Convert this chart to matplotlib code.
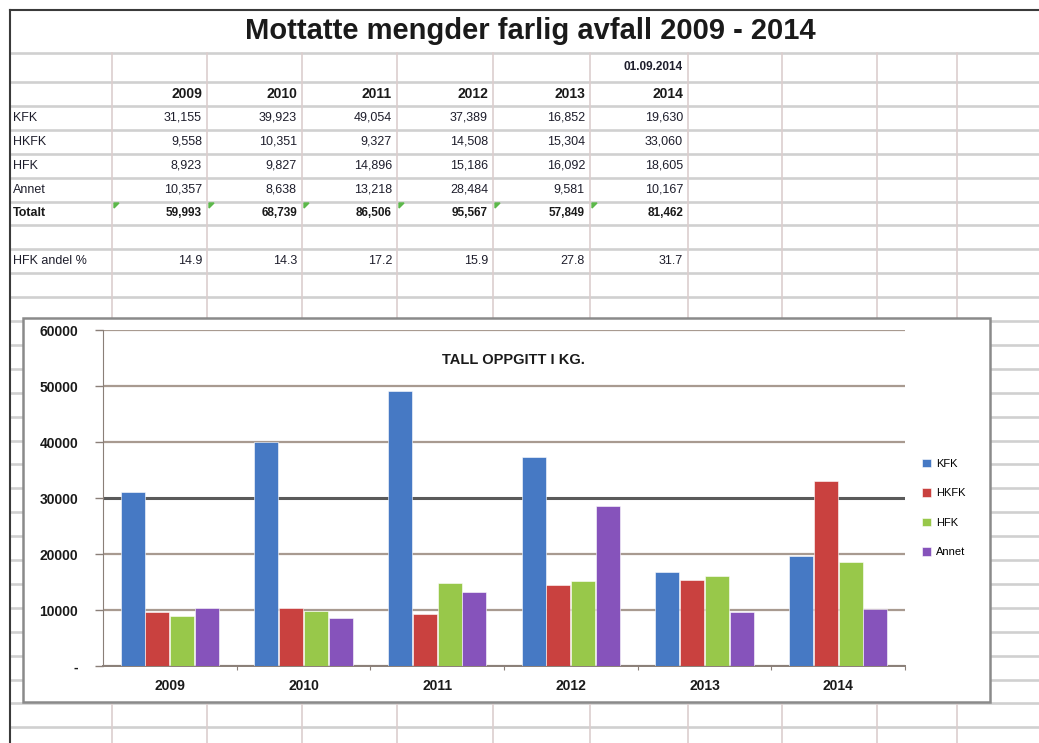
import matplotlib
matplotlib.use('Agg')
import matplotlib.pyplot as plt
import numpy as np
from matplotlib.patches import Rectangle, Polygon
from matplotlib.ticker import FuncFormatter

plt.rcParams['font.family'] = ['Liberation Sans', 'DejaVu Sans']

# ---------------- data ----------------
years = ['2009', '2010', '2011', '2012', '2013', '2014']
series_names = ['KFK', 'HKFK', 'HFK', 'Annet']
kfk = [31155, 39923, 49054, 37389, 16852, 19630]
hkfk = [9558, 10351, 9327, 14508, 15304, 33060]
hfk = [8923, 9827, 14896, 15186, 16092, 18605]
annet = [10357, 8638, 13218, 28484, 9581, 10167]
totalt = [59993, 68739, 86506, 95567, 57849, 81462]
hfk_andel = [14.9, 14.3, 17.2, 15.9, 27.8, 31.7]
date_label = '01.09.2014'
title = 'Mottatte mengder farlig avfall 2009 - 2014'
chart_title = 'TALL OPPGITT I KG.'
y_ticks = [0, 10000, 20000, 30000, 40000, 50000, 60000]
colors = ['#4679c4', '#c9413f', '#98c84a', '#8653bb']

W, H = 1039, 743
fig = plt.figure(figsize=(W / 100, H / 100), dpi=100)
fig.patch.set_facecolor('white')
bg = fig.add_axes([0, 0, 1, 1])
bg.set_xlim(0, W)
bg.set_ylim(H, 0)
bg.axis('off')

# ---------------- spreadsheet grid ----------------
col_x = [112, 207, 302, 397, 493, 590, 688, 782, 877, 957]
row_y = [53] + [82 + 23.9 * k for k in range(28) if 82 + 23.9 * k < H]
for y in row_y:
    bg.plot([10, W], [y, y], color='#d0d0d0', lw=1.9, zorder=1)
for x in col_x:
    bg.plot([x, x], [53, H], color='#dccece', lw=1.2, zorder=1)
bg.plot([10, 10], [10, H], color='#3a3a3a', lw=1.5, zorder=2)
bg.plot([10, W], [10, 10], color='#3a3a3a', lw=1.5, zorder=2)

bg.text(530, 31, title, ha='center', va='center', fontsize=21,
        fontweight='bold', color='#1a1a1a', zorder=3)

# ---------------- table ----------------
col_right = [202, 297, 392, 488, 585, 683]
col_left = [112, 207, 302, 397, 493, 590]
y_date, y_year = 67, 94
y_rows = [118, 142, 166, 190]
y_tot, y_pct = 213, 261
tcol = '#1e1e2c'
bg.text(col_right[-1], y_date, date_label, ha='right', va='center', fontsize=8.5,
        fontweight='bold', color=tcol)
for i, yr in enumerate(years):
    bg.text(col_right[i], y_year, yr, ha='right', va='center', fontsize=10,
            fontweight='bold', color='#1a1a1a')
for name, vals, yy in zip(series_names, [kfk, hkfk, hfk, annet], y_rows):
    bg.text(13, yy, name, ha='left', va='center', fontsize=9, color=tcol)
    for i, v in enumerate(vals):
        bg.text(col_right[i], yy, f'{v:,}', ha='right', va='center', fontsize=9, color=tcol)
bg.text(13, y_tot, 'Totalt', ha='left', va='center', fontsize=9, fontweight='bold', color='#1a1a1a')
for i, v in enumerate(totalt):
    bg.text(col_right[i], y_tot, f'{v:,}', ha='right', va='center', fontsize=8.5,
            fontweight='bold', color='#1a1a1a')
    cl = col_left[i] + 2
    bg.add_patch(Polygon([[cl, y_tot - 10], [cl + 5, y_tot - 10], [cl, y_tot - 5]],
                         closed=True, color='#5cb84a', zorder=3))
bg.text(13, y_pct, 'HFK andel %', ha='left', va='center', fontsize=9, color=tcol)
for i, v in enumerate(hfk_andel):
    bg.text(col_right[i], y_pct, f'{v:.1f}', ha='right', va='center', fontsize=9, color=tcol)

# ---------------- chart box ----------------
bg.add_patch(Rectangle((23, 318), 967, 384, facecolor='white', edgecolor='#8a8a8a',
                       lw=1.8, zorder=5))
bg.text(513, 360, chart_title, ha='center', va='center', fontsize=10.5,
        fontweight='bold', color='#1a1a1a', zorder=6)

px0, px1, py_top, py_bot = 103, 905, 330, 666
ax = fig.add_axes([px0 / W, 1 - py_bot / H, (px1 - px0) / W, (py_bot - py_top) / H])
ax.set_facecolor('none')
x = np.arange(len(years))
bw = 0.18
step = 0.185
handles = []
for k, (vals, c) in enumerate(zip([kfk, hkfk, hfk, annet], colors)):
    b = ax.bar(x + (k - 1.5) * step, vals, width=bw, color=c, edgecolor='white',
               linewidth=0.4, zorder=3, label=series_names[k])
    handles.append(b)

ax.set_xlim(-0.5, len(years) - 0.5)
ax.set_ylim(0, 60000)
ax.set_yticks(y_ticks)
ax.yaxis.set_major_formatter(FuncFormatter(lambda v, p: '-' if v == 0 else f'{int(v)}'))
ax.tick_params(axis='y', length=6, width=1, color='#8a7f78', pad=12,
               labelsize=10, labelcolor='#1a1a1a')
for lab in ax.get_yticklabels():
    lab.set_fontweight('bold')

ax.grid(axis='y', color='#a89a90', lw=1.6, zorder=1)
ax.set_axisbelow(True)
gls = ax.yaxis.get_gridlines()
gls[3].set_color('#5a5a5a')
gls[3].set_linewidth(2.2)

ax.set_xticks(np.arange(-0.5, len(years), 1.0)[1:])
ax.set_xticklabels([])
ax.set_xticks(x, minor=True)
ax.set_xticklabels(years, minor=True, fontsize=10, fontweight='bold', color='#1a1a1a')
ax.tick_params(axis='x', which='major', length=3, color='#8a7f78')
ax.tick_params(axis='x', which='minor', length=0, pad=9)

for s in ['top', 'right']:
    ax.spines[s].set_visible(False)
ax.spines['left'].set_color('#8a7f78')
ax.spines['bottom'].set_color('#8a7f78')
ax.spines['bottom'].set_linewidth(1.4)

fig.legend(handles=handles, labels=series_names, loc='center left',
           bbox_to_anchor=(912 / W, 1 - 508 / H), frameon=False, fontsize=8,
           handlelength=0.8, handleheight=0.8, labelspacing=1.75, handletextpad=0.5)

fig.savefig('out.png', dpi=100)
